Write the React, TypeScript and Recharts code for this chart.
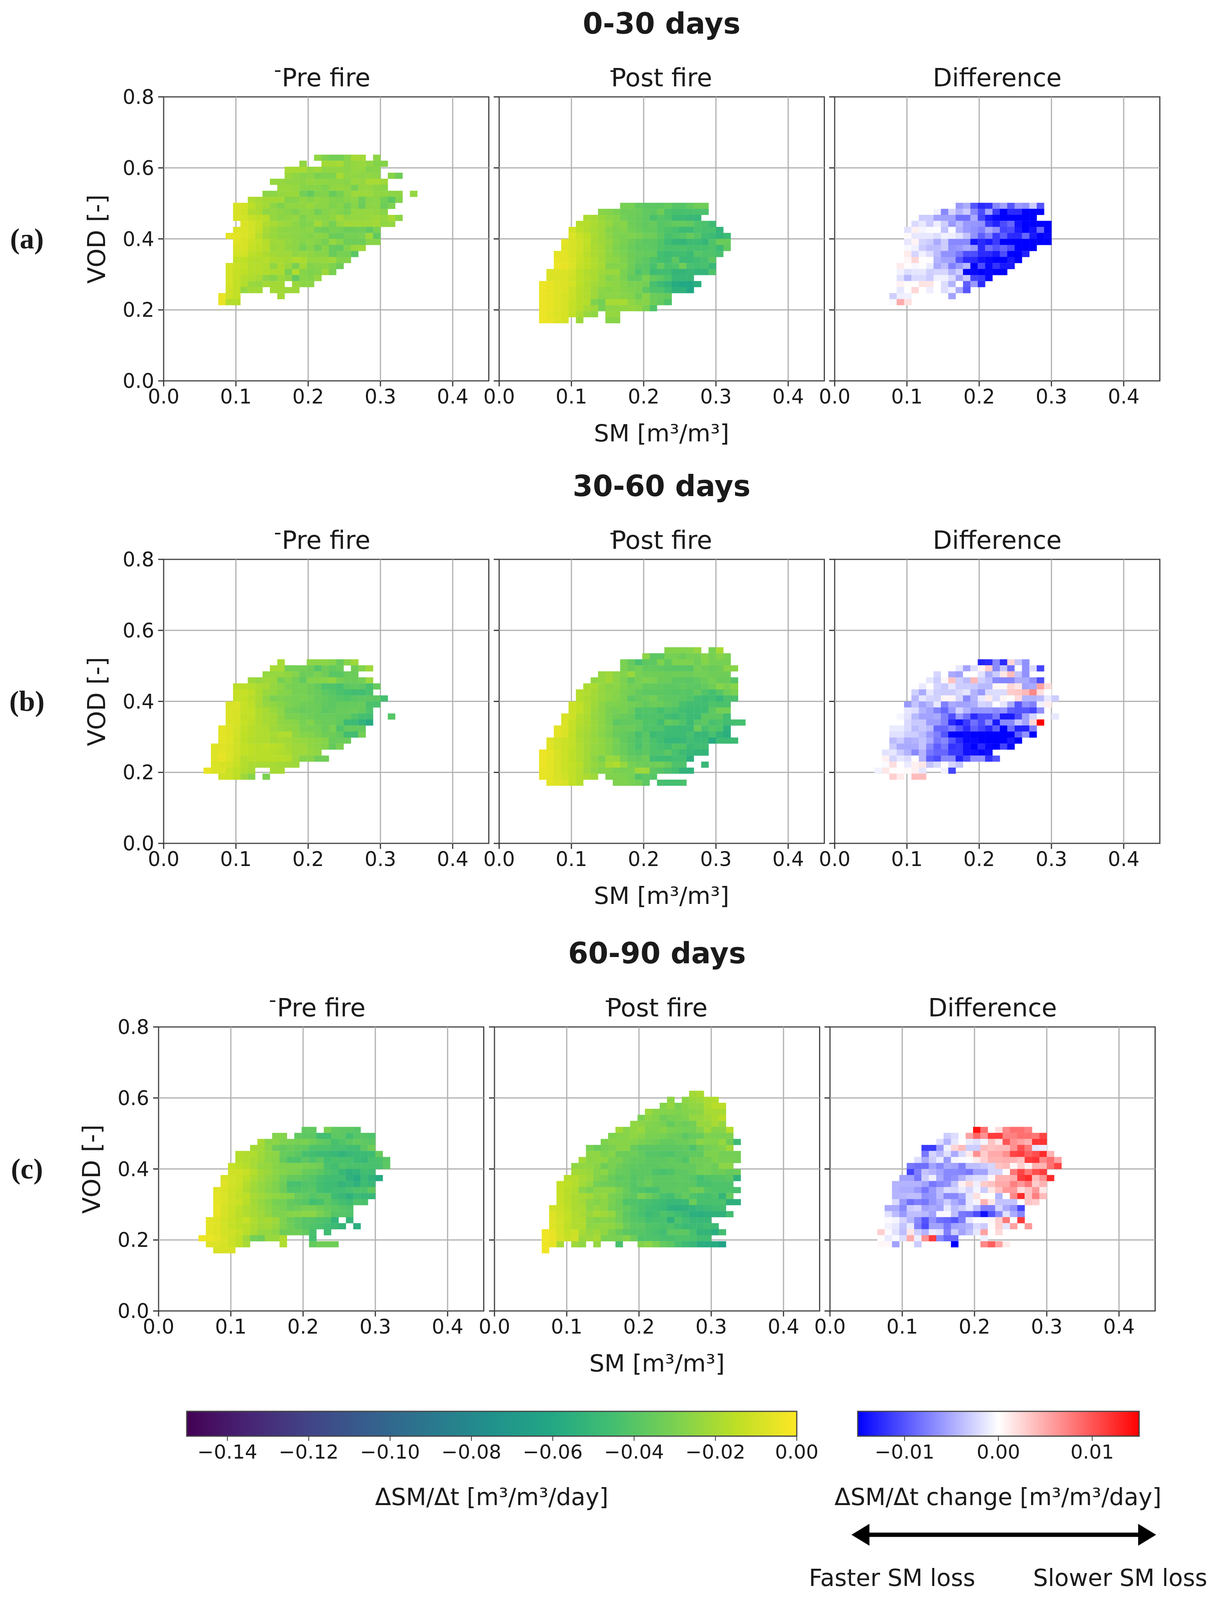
import { ScatterChart, Scatter, XAxis, YAxis, ReferenceLine, ReferenceArea } from "recharts";

// row = [vod row index, first SM bin, values...]. _ marks an empty bin.
// Pre/post values: SM loss rate in 1/1000 m3/m3/day (sign dropped). Difference: change in 1e-4 m3/m3/day.
type Row = (number | null)[];
const _ = null;

const preA: Row[] = [
  [13, 20, 25, 29, 32, 32, 27, 20, 21, _, 26],
  [12, 18, 25, _, _, 21, 21, 20, 26, 24, 23, 25, 28, 28],
  [11, 16, 20, 20, 20, 24, 22, 25, 25, 25, 26, 24, 24, 28, 27],
  [10, 16, 23, 25, 27, 26, 30, 29, 29, 20, 25, 25, 26, 25, 26, _, 27, 33],
  [9, 14, 24, 24, 25, 25, 26, 24, 25, 25, 26, 26, 27, 23, 24, 20, 20, 22],
  [8, 15, 23, 23, 24, 27, 27, 27, 29, 25, 24, 25, 31, 24, 24, 26, 27],
  [7, 13, 26, 26, 24, 23, 23, 32, 36, 29, 28, 35, 31, 26, 22, 23, 23, 25, 25, 26, 26, _, 24],
  [6, 11, 18, 20, 21, 21, 21, 28, 27, 25, 27, 25, 26, 28, 29, 27, 26, 33, 27, 26, 32, 38, 28],
  [5, 9, 9, 10, 15, 19, 21, 26, 29, 25, 25, 25, 23, 26, 26, 29, 27, 32, 27, 34, 26, 26, 34, 29],
  [4, 9, 9, 11, 18, 19, 25, 24, 25, 27, 29, 26, 26, 32, 28, 26, 28, 30, 24, 24, 24, 25, 27],
  [3, 9, 9, 10, 13, 15, 16, 24, 26, 25, 24, 29, 26, 26, 27, 25, 21, 25, 24, 24, 23, 22, 24, 20, 26],
  [2, 9, _, 8, 10, 13, 18, 20, 22, 23, 26, 29, 28, 21, 26, 31, 24, 21, 22, 22, 22, 21, 25, 24],
  [1, 9, 8, 8, 10, 14, 20, 23, 25, 26, 26, 27, 26, 32, 33, 30, 31, 34, 33, 33, 37, 30],
  [0, 8, 6, 6, 8, 10, 16, 21, 23, 25, 25, 26, 27, 28, 26, 27, 34, 35, 31, 31, 30, 22, 37],
  [-1, 9, 7, 9, 12, 14, 17, 22, 22, 24, 26, 28, 26, 28, 31, 24, 27, 33, 33, 33, 27, 27],
  [-2, 9, 9, 9, 13, 15, 16, 23, 22, 25, 26, 31, 27, 33, 27, 35, 36, 28, 23, 22],
  [-3, 9, 10, 10, 15, 16, 19, 21, 22, 22, 25, 24, 25, 27, 27, 35, 31, 31, 39],
  [-4, 9, 14, 15, 17, 18, 17, 19, 20, 21, 18, 19, 24, 24, 23, 22, 28, 28],
  [-5, 8, 10, 12, 14, 17, 17, 18, 25, 19, 23, 30, 21, 28, 27, 26, 29, 33],
  [-6, 8, 10, 13, 15, 17, 17, 18, 19, 19, 30, 18, 27, 29, 28, 22, 30],
  [-7, 8, 10, 13, 17, 18, 20, 26, 28, 23, 25, 37, 27, 28, 24],
  [-8, 8, 10, 14, 17, 23, 24, 21, 21, 21, _, 23, 26, 26],
  [-9, 8, 11, 14, 24, 21, 21, _, 21, 21, 22, 22],
  [-10, 7, 5, 11, 14, _, _, _, _, _, 21],
  [-11, 7, 5, 17, 17],
];

const postA: Row[] = [
  [5, 16, 31, 31, 36, 38, 38, 38, 36, 40, 40, 37, 33, 33],
  [4, 13, 27, 28, 30, 33, 33, 34, 37, 38, 33, 42, 44, 44, 43, 43, 43],
  [3, 11, 19, 20, 23, 26, 27, 32, 34, 35, 37, 43, 40, 42, 48, 48, 50, 50],
  [2, 10, 17, 17, 19, 22, 24, 28, 27, 33, 35, 37, 35, 40, 38, 36, 36, 37, 42, 43, 48],
  [1, 9, 10, 15, 18, 20, 22, 27, 29, 28, 32, 34, 36, 36, 40, 42, 44, 48, 48, 43, 44, 44, 52],
  [0, 9, 8, 12, 15, 19, 22, 26, 29, 30, 29, 30, 33, 34, 38, 44, 42, 40, 36, 40, 46, 48, 52, 48],
  [-1, 8, 6, 9, 11, 14, 20, 22, 24, 28, 30, 33, 36, 38, 38, 41, 47, 51, 52, 48, 48, 51, 42, 34, 35],
  [-2, 8, 7, 9, 11, 15, 19, 21, 25, 29, 31, 34, 37, 37, 38, 41, 43, 43, 42, 44, 44, 44, 42, 48, 37],
  [-3, 7, 6, 6, 9, 12, 16, 19, 21, 25, 28, 30, 33, 35, 36, 36, 45, 47, 46, 45, 48, 40, 42, 42, 44],
  [-4, 7, 5, 6, 8, 12, 15, 18, 21, 25, 26, 29, 33, 36, 38, 42, 45, 46, 38, 48, 48, 46, 44, 38],
  [-5, 7, 4, 5, 8, 13, 15, 18, 20, 28, 28, 28, 33, 38, 39, 44, 36, 43, 42, 33, 44, 45, 44, 50],
  [-6, 6, 8, 7, 8, 10, 15, 18, 19, 22, 23, 23, 30, 34, 42, 38, 47, 46, 46, 52, 52, 50, 52, 52, 42],
  [-7, 6, 8, 8, 8, 11, 15, 17, 19, 23, 28, 26, 30, 37, 37, 30, 36, 38, 42, 50, 50, 50],
  [-8, 5, 4, 5, 7, 8, 10, 15, 18, 21, 23, 25, 26, 28, 30, 30, 32, 44, 48, 52, 58, 60, 60, 56],
  [-9, 5, 4, 5, 7, 8, 12, 16, 18, 22, 26, 27, 26, 28, 29, 30, 38, 42, 42, 47, 54, 54, 60],
  [-10, 5, 4, 5, 7, 9, 12, 16, 18, 22, 27, 26, 26, 27, 28, 33, 27, 34, 35, 36],
  [-11, 5, 4, 5, 7, 9, 13, 16, 17, 29, 32, 20, 20, 20, 25, 28, 27, 33, 36, 42],
  [-12, 5, 4, 5, 7, 9, 13, 16, 20, 22, 31, 26, 25, 25, 24, 25, 30, 41],
  [-13, 5, 4, 6, 8, 9, 14, 19, 23, 25, _, 24, 24],
  [-14, 5, 4, 5, 7, 9, _, 22, _, _, _, 27, 27],
];

const diffA: Row[] = [
  [5, 16, -60, -48, -100, -125, -120, -70, -55, -100, -60, -65, -30, -100],
  [4, 13, -8, -70, -25, -45, -30, -70, -105, -55, -115, -150, -125, -125, -150, -150, -150],
  [3, 11, -30, -30, -55, -55, -55, -85, -85, -50, -110, -135, -145, -150, -150, -150, -150, -150],
  [2, 10, -22, -13, -30, -10, -28, -60, -40, -60, -62, -65, -115, -130, -105, -90, -140, -150, -150, -150, -150],
  [1, 9, -17, 8, -6, -2, -2, -35, -2, -45, -60, -65, -75, -50, -65, -110, -105, -135, -150, -140, -90, -150],
  [0, 9, 3, -14, -14, -14, -20, -8, -10, -18, -35, -65, -95, -75, -115, -95, -125, -125, -90, -135, -150, -145],
  [-1, 9, -14, 7, -25, -30, -50, -30, -70, -70, -70, -140, -125, -135, -115, -150, -150, -150, -150, -150, -150, -150],
  [-2, 9, -4, -8, -30, -38, -38, -30, -65, -60, -50, -60, -125, -85, -100, -90, -105, -150, -150, -150],
  [-3, 9, 12, -25, -8, -20, -40, -65, -65, -80, -105, -105, -125, -125, -135, -105, -150, -150, -130],
  [-4, 9, 5, 24, 1, 2, -45, -55, -55, -100, -125, -125, -140, -145, -150, -150, -135, -150],
  [-5, 8, 12, 2, -5, 2, -12, -50, -38, -75, -58, -42, -150, -105, -145, -120, -135, -135],
  [-6, 8, -8, -20, -15, -15, -28, -25, -25, -45, -28, -150, -145, -150, -145, -150, -150],
  [-7, 8, -18, -42, -22, -22, -30, -9, -9, -22, -55, -32, -110, -115, -145],
  [-8, 8, 8, 2, 2, 16, 16, 0, -20, -45, 0, -95, -60, -125],
  [-9, 8, -15, 0, 24, 0, -10, 0, -20, -8, -50, -100],
  [-10, 7, -28, -10, -8, _, _, _, _, _, -55],
  [-11, 7, -4, 50, 18],
];

const preB: Row[] = [
  [6, 15, 20, _, _, _, 26, 26, 26, 28, 35, 27, 22],
  [5, 14, 20, 20, 32, 32, 32, 33, 40, 33, 36, 34, _, 33, 28, 22],
  [4, 13, 24, 24, 24, 25, 28, 34, 33, 30, 33, 39, 39, 34, 34],
  [3, 11, 22, 24, 22, 23, 31, 28, 32, 37, 28, 28, 27, 25, 31, 34, 34, 32, 23],
  [2, 9, 16, 16, 17, 19, 20, 24, 26, 30, 31, 31, 33, 36, 42, 42, 44, 38, 37, 38, 44, 36],
  [1, 9, 13, 13, 15, 19, 23, 24, 27, 28, 31, 31, 33, 35, 38, 40, 43, 45, 46, 46, 43],
  [0, 9, 14, 14, 16, 19, 25, 30, 29, 30, 31, 30, 32, 35, 36, 38, 40, 41, 39, 38, 38, 39, 45],
  [-1, 8, 9, 8, 13, 15, 20, 24, 25, 27, 29, 31, 33, 33, 35, 37, 38, 36, 36, 36, 35, 43, 43],
  [-2, 8, 8, 9, 13, 14, 18, 20, 23, 26, 32, 33, 35, 34, 34, 38, 37, 35, 35, 34, 36, 42],
  [-3, 8, 8, 9, 14, 14, 18, 20, 21, 25, 30, 30, 32, 33, 35, 35, 35, 36, 36, 41, 45, 46, _, _, 40],
  [-4, 8, 8, 9, 13, 15, 18, 20, 21, 25, 26, 27, 31, 28, 33, 34, 34, 37, 48, 48, 53, 58],
  [-5, 7, 6, 7, 10, 14, 16, 18, 18, 22, 24, 25, 26, 30, 31, 31, 35, 30, 42, 36, 36, 36],
  [-6, 7, 6, 7, 10, 15, 16, 18, 18, 20, 18, 18, 25, 28, 28, 30, 33, 33, 36, 46, 46, 32],
  [-7, 7, 6, 7, 11, 15, 17, 18, 18, 21, 20, 21, 23, 24, 25, 26, 27, 35, 34, 34],
  [-8, 6, 7, 7, 8, 11, 14, 15, 16, 15, 16, 17, 20, 22, 22, 25, 26, 28, 36, 30],
  [-9, 6, 7, 6, 8, 11, 14, 15, 16, 16, 17, 18, 19, 22, 22, 24, 25],
  [-10, 6, 7, 5, 8, 12, 17, 16, 16, 16, 16, 16, 17, 22, 28, 27, 33, 33],
  [-11, 6, 8, 9, 10, 13, 17, 19, 20, 20, 20, 21, 21, 22],
  [-12, 5, 5, 8, 8, 12, 15, 18, 20, _, _, 20, 20],
  [-13, 7, 11, 12, 15, 22, 27, _, 30],
];

const postB: Row[] = [
  [8, 22, 28, 28, 28, 28, 24, _, 31, 20],
  [7, 19, 26, 38, 38, 31, 31, 34, 31, 32, 27, 31, 27, 30],
  [6, 16, 30, 36, 44, 38, 38, 29, 37, 29, 29, 29, 33, 28, 31, 31, 31],
  [5, 16, 30, 34, 32, 36, 36, 37, 38, 39, 39, 39, 31, 33, 35, 33, 27, 27],
  [4, 13, 24, 22, 26, 28, 23, 31, 33, 33, 33, 34, 33, 33, 34, 32, 32, 33, 33, 33],
  [3, 12, 25, 24, 21, 26, 30, 36, 31, 29, 30, 34, 34, 38, 38, 39, 37, 34, 31, 35, 34, 40],
  [2, 11, 19, 19, 24, 27, 26, 29, 32, 32, 36, 36, 37, 38, 38, 36, 38, 39, 36, 33, 27, 30, 27],
  [1, 10, 17, 18, 21, 24, 26, 27, 30, 32, 36, 38, 38, 38, 39, 40, 39, 40, 36, 41, 45, 40, 33, 30],
  [0, 10, 17, 19, 21, 24, 26, 28, 30, 38, 36, 34, 32, 37, 38, 38, 39, 41, 45, 47, 45, 50, 43, 43],
  [-1, 9, 12, 14, 18, 22, 26, 29, 29, 30, 32, 33, 36, 34, 34, 37, 38, 44, 46, 46, 46, 42, 43, 43],
  [-2, 9, 12, 14, 18, 23, 26, 30, 32, 30, 34, 42, 41, 41, 45, 41, 43, 46, 48, 47, 47, 38, 32, 32],
  [-3, 8, 9, 11, 17, 19, 24, 26, 30, 33, 35, 36, 43, 42, 42, 42, 46, 48, 44, 48, 48, 38, 38, 38, 46],
  [-4, 8, 8, 13, 17, 19, 23, 26, 30, 38, 37, 37, 37, 41, 41, 46, 36, 38, 42, 48, 40, 38, 44, 42, 46, 45, 45],
  [-5, 7, 6, 8, 13, 18, 20, 23, 26, 29, 33, 34, 34, 37, 42, 42, 42, 47, 48, 48, 48, 34, 44, 40, 42, 54],
  [-6, 7, 6, 8, 14, 19, 21, 24, 27, 30, 35, 36, 38, 44, 39, 48, 46, 48, 48, 48, 44, 50, 50, 44, 52, 56],
  [-7, 6, 7, 10, 12, 14, 18, 21, 23, 25, 28, 31, 36, 39, 42, 39, 43, 46, 51, 51, 50, 46, 48, 48, 58, 48, 48, 48],
  [-8, 6, 7, 10, 12, 14, 18, 21, 24, 25, 28, 32, 35, 38, 43, 38, 42, 44, 46, 41, 41, 48, 46, 46],
  [-9, 5, 4, 5, 9, 12, 15, 18, 21, 24, 25, 28, 32, 34, 38, 40, 38, 42, 42, 38, 44, 48, 50, 52, 52],
  [-10, 5, 4, 6, 9, 12, 15, 18, 21, 26, 30, 23, 24, 32, 35, 36, 33, 46, 47, 47, 45, 45, 55],
  [-11, 5, 4, 6, 9, 12, 14, 16, 21, 24, 26, 20, 18, 24, 31, 33, 34, 33, 32, 35, 42, 42, _, _, 50],
  [-12, 5, 5, 6, 9, 12, 14, 17, 22, 26, 28, 28, 30, 31, 30, 22, 22, 38, 40, 43, 45, 52, 53],
  [-13, 5, 5, 6, 9, 11, 14, 17, 19, 22, _, 29, 29, 29, 31, 41, 38, 40],
  [-14, 6, 6, 7, 9, 14, 17, _, _, _, _, 29, 29, 30, 32, 38, _, 44, 45, 45, 44],
];

const diffB: Row[] = [
  [6, 19, -130, -125, -70, -125, 25, -35, -65],
  [5, 16, -15, -55, -20, 6, 30, -70, -35, -85, 0, -65, -22, -110],
  [4, 13, -25, 0, -50, -55, 0, 0, -17, -48, -30, 15, 40, -35, -65],
  [3, 12, -15, -30, 5, 35, -28, -40, 42, -28, -38, -70, -72, -72, -50, -50, -65, -105],
  [2, 11, -13, 2, -25, -32, -14, -30, -30, -32, -42, -42, 5, 5, 24, 15, -55, -50, 55, 22],
  [1, 10, -28, -50, -14, -28, -30, -30, -22, -15, -45, -60, -22, -20, -22, 30, 33, 42, 70, 18, 0],
  [0, 10, -42, -15, -25, -27, 6, 6, -25, -70, -45, -13, 12, -22, 6, 0, 22, -45, -45, -40, -13, -30],
  [-1, 9, -60, -35, -55, -42, -14, -75, -50, -55, -55, -48, -25, -28, 0, -15, -48, -100, -65, -75, -9, 10],
  [-2, 9, -15, -20, -45, -55, -75, -90, -60, -25, -45, -62, -62, -62, -68, -62, -95, -100, -100, -110, -65],
  [-3, 8, -6, -17, -42, -55, -55, -50, -75, -105, -60, -85, -125, -105, -105, -80, -135, -135, -105, -55, -25, _, _, -14],
  [-4, 9, -22, -32, -32, -58, -58, -75, -125, -140, -115, -85, -105, -70, -135, -70, -70, -35, -55, 22, 150],
  [-5, 7, -12, -12, -22, -40, -32, -40, -90, -90, -75, -100, -125, -95, -110, -125, -95, -150, -85, -130, -130, -75],
  [-6, 7, -18, -18, -28, -30, -40, -60, -75, -100, -150, -150, -145, -150, -150, -150, -150, -150, -150, -95, -65, -150],
  [-7, 7, -40, -30, -48, -45, -35, -50, -80, -70, -100, -125, -145, -145, -150, -150, -150, -150, -135, -150],
  [-8, 7, -30, -50, -50, -50, -35, -70, -95, -80, -120, -115, -140, -150, -125, -145, -150, -110, -145],
  [-9, 6, -17, -14, -30, -45, -70, -45, -80, -90, -90, -115, -115, -140, -140, -145, -140],
  [-10, 6, 8, -25, -14, -20, 0, -45, -95, -105, -70, -70, -130, -105, -65, -65, -120, -100],
  [-11, 6, -3, 20, 0, -12, 8, 15, -35, -22, 2, -25, -35],
  [-12, 5, -8, 14, 1, 1, 3, 8, -15, _, _, -8, -110],
  [-13, 7, 28, 12, _, 40, 40],
];

const preC: Row[] = [
  [6, 19, 37, 37, _, 30, 37, 38, 38, 40],
  [5, 15, 28, 28, _, 37, 38, 38, 46, 46, 38, 38, 45, 40, 40, 42],
  [4, 13, 20, 27, 26, 29, 30, 31, 30, 33, 36, 38, 44, 41, 38, 36, 38, 39],
  [3, 12, 21, 21, 26, 34, 36, 34, 36, 37, 42, 42, 42, 44, 44, 46, 46, 38, 33],
  [2, 10, 17, 18, 18, 22, 25, 26, 35, 36, 38, 44, 46, 48, 48, 50, 53, 50, 48, 48, 47, 35],
  [1, 10, 17, 18, 20, 22, 26, 27, 36, 42, 42, 38, 42, 38, 45, 43, 44, 44, 48, 50, 44, 43, 39],
  [0, 9, 13, 15, 17, 20, 24, 24, 27, 29, 29, 29, 30, 31, 33, 44, 46, 41, 43, 43, 43, 44, 44, 38],
  [-1, 9, 11, 11, 13, 17, 21, 23, 26, 28, 29, 30, 35, 36, 38, 42, 44, 50, 54, 52, 46, 47],
  [-2, 8, 9, 10, 12, 15, 19, 22, 25, 27, 32, 36, 36, 38, 40, 44, 46, 46, 46, 54, 58, 48, 54, 58],
  [-3, 8, 7, 10, 12, 17, 21, 24, 26, 29, 33, 44, 44, 41, 41, 45, 47, 48, 52, 50, 54, 47, 50],
  [-4, 7, 7, 8, 11, 13, 18, 22, 24, 27, 29, 34, 41, 41, 40, 39, 45, 47, 46, 46, 44, 42, 42, 37],
  [-5, 7, 6, 8, 11, 14, 15, 20, 22, 24, 25, 27, 28, 35, 37, 40, 38, 38, 47, 50, 54, 48, 50, 50],
  [-6, 7, 6, 8, 11, 12, 16, 21, 24, 27, 31, 32, 36, 38, 40, 46, 44, 38, 42, 45, 47, 42, 43],
  [-7, 7, 5, 9, 12, 15, 18, 20, 23, 26, 29, 31, 35, 33, 31, 31, 33, 36, 38, 40, 42],
  [-8, 7, 5, 9, 12, 16, 18, 20, 22, 25, 29, 29, 27, 27, 26, 26, 30, 34, 40, 40, 41],
  [-9, 6, 6, 7, 10, 13, 15, 13, 18, 21, 20, 22, 29, 34, 37, 40, 40, 42, 43, 52, _, 52],
  [-10, 6, 6, 7, 10, 13, 15, 16, 19, 22, 21, 24, 29, 33, 37, 40, 42, 43, 46, 48, 52, _, 56],
  [-11, 6, 6, 7, 10, 11, 13, 16, 20, 24, 24, 26, 33, 33, 33, 36, 44, _, 47],
  [-12, 5, 4, 4, 6, 9, 12, 15, 22, 32, 33, 23, 23, 18, _, _, _, 45],
  [-13, 6, 7, 8, 9, 12, 15, 20, _, _, _, _, 18, _, _, _, 36, 33, 33, 33],
  [-14, 7, 9, 9, 9],
];

const postC: Row[] = [
  [12, 26, 21, 19],
  [11, 23, 26, _, 26, 23, 22, 19, 18],
  [10, 22, 28, 24, 30, 27, 25, 25, 19, 16, 16],
  [9, 20, 23, 27, 28, 28, 29, 28, 27, 26, 20, 20, 20],
  [8, 19, 30, 26, 28, 33, 31, 30, 29, 24, 24, 22, 19, 16],
  [7, 18, 25, 26, 28, 29, 31, 36, 32, 34, 32, 23, 24, 20, 24],
  [6, 16, 21, 27, 25, 23, 29, 29, 27, 30, 31, 32, 32, 28, 22, 28, 27, 17],
  [5, 15, 29, 28, 27, 25, 27, 30, 30, 31, 33, 34, 38, 35, 35, 29, 30, 30, 29],
  [4, 14, 29, 27, 27, 27, 28, 30, 32, 33, 36, 36, 34, 34, 32, 26, 28, 28, 24, 33, 48],
  [3, 12, 30, 34, 31, 30, 27, 27, 35, 38, 38, 38, 38, 38, 38, 37, 42, 36, 32, 30, 28, 22],
  [2, 12, 26, 25, 29, 27, 34, 34, 33, 36, 40, 40, 41, 42, 39, 38, 37, 37, 29, 29, 32, 32, 32],
  [1, 11, 21, 26, 25, 25, 30, 30, 34, 36, 36, 38, 38, 38, 36, 38, 41, 33, 33, 33, 29, 31, 30, 32],
  [0, 10, 25, 25, 25, 27, 33, 30, 33, 36, 37, 38, 38, 38, 37, 37, 36, 36, 36, 33, 32, 34, 26, 26],
  [-1, 10, 21, 22, 23, 28, 26, 31, 35, 36, 39, 38, 38, 42, 44, 42, 38, 38, 36, 32, 32, 34, 33, 36, 34],
  [-2, 9, 17, 17, 20, 22, 28, 30, 35, 38, 36, 40, 38, 36, 38, 38, 38, 37, 38, 40, 45, 42, 40, 40, 38, 54],
  [-3, 8, 13, 15, 17, 21, 24, 32, 33, 34, 36, 37, 40, 37, 34, 38, 38, 38, 38, 38, 39, 44, 44, 42, 42, 42],
  [-4, 8, 13, 16, 18, 27, 30, 26, 26, 26, 30, 35, 40, 42, 44, 44, 38, 38, 37, 38, 33, 33, 40, 42, 42, 42, 44],
  [-5, 8, 13, 16, 19, 20, 21, 25, 24, 30, 32, 36, 38, 30, 34, 38, 44, 46, 40, 36, 42, 44, 45, 42, 52, 36],
  [-6, 8, 13, 16, 19, 21, 26, 28, 26, 30, 34, 42, 42, 43, 44, 46, 48, 50, 50, 48, 34, 44, 44, 44, 43, 55, 55],
  [-7, 7, 11, 12, 15, 19, 19, 26, 24, 26, 31, 33, 36, 40, 43, 46, 47, 49, 54, 55, 54, 52, 50, 48, 46, 46],
  [-8, 7, 7, 11, 14, 18, 20, 23, 20, 22, 24, 32, 38, 41, 44, 48, 46, 42, 44, 47, 50, 55, 56, 54, 54, 54, 46],
  [-9, 7, 7, 10, 14, 18, 18, 26, 28, 27, 28, 32, 37, 40, 41, 45, 44, 44, 54, 42, 46, 50, 50, 50],
  [-10, 7, 7, 10, 15, 18, 18, 26, 25, 24, 25, 28, 34, 38, 38, 41, 42, 43, 42, 46, 49, 48, 48, 46, 48],
  [-11, 6, 3, 5, 10, 14, 12, 20, 24, 22, 25, 30, 35, 38, 40, 40, 42, 44, 46, 38, 38, 38, 44, 52, 52, 56, 46],
  [-12, 6, 3, 5, 9, 13, 11, 23, 22, 20, 30, 30, 30, 27, 34, 42, 42, 42, 44, 44, 42, 42, 43, 46, 46],
  [-13, 6, 3, 5, 20, _, 22, 25, _, 24, _, _, 44, _, _, 28, 26, 30, 36, 38, 44, 48, 50, 56, 57, 58, 64],
  [-14, 6, 3],
];

const diffC: Row[] = [
  [6, 19, 140, 85, _, 20, 70, 85, 85, 75],
  [5, 15, -30, -20, _, 55, 90, 65, 115, 115, 75, 75, 85, 85, 80, 110],
  [4, 14, -20, -45, -15, 0, -12, -18, -6, 35, 15, 100, 65, 55, 45, 120, 120],
  [3, 12, -115, -115, -60, -8, 25, 40, -30, -30, 40, 35, 40, 40, 65, 105, 80, -15, -10],
  [2, 12, -80, -25, -40, -18, -50, -22, 12, 65, 30, 50, 50, 65, 110, 115, 95, 105, 125, 45],
  [1, 11, -20, -50, -30, -12, -60, -6, -3, -2, 12, 28, 45, 45, 48, 45, 35, 115, 120, 70, 85, 55],
  [0, 10, -80, -85, -85, -55, -70, -50, -55, -75, -38, -38, -32, -24, 35, 40, 5, 28, 8, 45, 45, 85, 110],
  [-1, 10, -110, -75, -35, -45, -55, -70, -70, -72, -80, -55, -55, -25, -25, 0, 80, 110, 80, 105, 115],
  [-2, 9, -55, -55, -80, -28, -8, -50, -70, -65, -45, -25, -20, -20, 5, 45, 45, 48, 115, 125, 40, 65, 125],
  [-3, 8, -45, -45, -45, -45, -55, -80, -70, -65, -35, 8, 25, -10, 30, 35, 50, 50, 75, 60, 80, 30, 45],
  [-4, 8, -45, -48, -48, -60, -80, -60, -40, -20, -25, -12, -25, -6, -30, 15, 35, 60, 60, 20, 35, 60, 14],
  [-5, 8, -45, -42, -38, -38, -65, -62, -40, -70, -70, -55, -15, 18, 0, 0, -45, 0, 70, 125, 35, 75, 40],
  [-6, 8, -22, -60, -85, -75, -80, -62, -50, -30, -50, -65, -15, -6, 45, 14, -35, -35, -35, 0, 35, 30],
  [-7, 7, -50, -50, -70, -30, -25, -55, -50, -55, -15, -40, -30, -15, -40, -75, -75, -25, -50, -65, -110],
  [-8, 7, -18, -40, -60, -38, -38, -42, -55, -4, -4, -38, -80, -85, -105, -140, -100, -70, -18, -50, -70],
  [-9, 7, -3, -6, -25, -42, -70, -100, -65, -85, -90, -100, -75, -14, -2, -2, 6, 28, 80, 0, 115],
  [-10, 7, -8, -14, -35, -12, -75, -105, -55, -55, -80, -55, -50, -45, -22, -30, 3, 28, -15, 55, _, 60],
  [-11, 6, 28, -3, -18, -38, 15, -30, -45, -12, -18, -75, -30, -55, -38, -15, 55, 0, 22],
  [-12, 6, 2, -12, -4, -20, 50, -10, 65, 115, -70, -90, -90, _, _, _, -10],
  [-13, 6, 5, 4, -55, _, _, -30, _, _, _, _, -150, _, _, _, 70, 95, 55, 12],
];

const smTicks = [0, 0.1, 0.2, 0.3, 0.4];
const vodTicks = [0, 0.2, 0.4, 0.6, 0.8];
const lossTicks = [-0.14, -0.12, -0.1, -0.08, -0.06, -0.04, -0.02, 0];
const changeTicks = [-0.01, 0, 0.01];

const VIRIDIS = ["#440154", "#482475", "#414487", "#355f8d", "#2a788e", "#21918c", "#22a884", "#44bf70", "#7ad151", "#bddf26", "#fde725"];

const FONT = "DejaVu Sans";
const INK = "#1a1a1a";
// the browser window stops at 4096px high, so the 4315px layout is squeezed vertically to fit
const PAGE_H = 4096;
const SY = PAGE_H / 4315;
const sy = (y: number) => y * SY;
const PANEL_W = 832.5;
const PANEL_H = sy(766);
const SM_MAX = 0.45;
const VOD_MAX = 0.8;
const SM_START = 0.0042;
const SM_BIN = 0.0102;
const VOD_START = 0.4;
const VOD_BIN = 0.01695;
const PAD = { left: 130, top: 44, right: 30, bottom: 100 };

function hexRgb(h: string) {
  return [1, 3, 5].map((i) => parseInt(h.slice(i, i + 2), 16));
}

function viridis(m: number) {
  const t = Math.max(0, Math.min(1, 1 - m / 150)) * 10;
  const i = Math.min(9, Math.floor(t));
  const a = hexRgb(VIRIDIS[i]);
  const b = hexRgb(VIRIDIS[i + 1]);
  const c = a.map((v, k) => Math.round(v + (b[k] - v) * (t - i)));
  return `rgb(${c.join(",")})`;
}

function bwr(d: number) {
  const f = Math.min(1, Math.abs(d) / 150);
  const o = Math.round(255 * (1 - f));
  return d < 0 ? `rgb(${o},${o},255)` : `rgb(255,${o},${o})`;
}

function toCells(rows: Row[]) {
  const cells: { x: number; y: number; v: number }[] = [];
  rows.forEach(([r, first, ...vals]) => {
    vals.forEach((v, k) => {
      if (v === null) return;
      cells.push({
        x: SM_START + ((first as number) + k + 0.5) * SM_BIN,
        y: VOD_START + ((r as number) + 0.5) * VOD_BIN,
        v,
      });
    });
  });
  return cells;
}

const cellW = (SM_BIN * PANEL_W) / SM_MAX;
const cellH = (VOD_BIN * PANEL_H) / VOD_MAX;

function Panel({ rows, left, top, color, ylabels }: { rows: Row[]; left: number; top: number; color: (v: number) => string; ylabels: boolean }) {
  const cells = toCells(rows);
  const tick = { fontSize: 51, fontFamily: FONT, fill: INK };
  const tickLine = { stroke: "#333", strokeWidth: 3 };
  return (
    <div style={{ position: "absolute", left: left - PAD.left, top: top - PAD.top }}>
      <ScatterChart
        width={PANEL_W + PAD.left + PAD.right}
        height={PANEL_H + PAD.top + PAD.bottom}
        margin={{ top: PAD.top, right: PAD.right, left: 0, bottom: 0 }}
      >
        <XAxis
          type="number"
          dataKey="x"
          domain={[0, SM_MAX]}
          ticks={smTicks}
          interval={0}
          height={PAD.bottom}
          tick={tick}
          tickLine={tickLine}
          tickSize={14}
          tickMargin={8}
          axisLine={false}
          tickFormatter={(v: number) => v.toFixed(1)}
        />
        <YAxis
          type="number"
          dataKey="y"
          domain={[0, VOD_MAX]}
          ticks={vodTicks}
          interval={0}
          width={PAD.left}
          tick={tick}
          tickLine={tickLine}
          tickSize={14}
          tickMargin={10}
          axisLine={false}
          tickFormatter={(v: number) => (ylabels ? v.toFixed(1) : "")}
        />
        <Scatter
          data={cells}
          isAnimationActive={false}
          shape={(p: any) => (
            <rect
              x={p.cx - cellW / 2}
              y={p.cy - cellH / 2}
              width={cellW + 0.4}
              height={cellH + 0.4}
              fill={color(p.payload.v)}
            />
          )}
        />
        {smTicks.slice(1).map((v) => (
          <ReferenceLine key={`x${v}`} x={v} stroke="#b0b0b0" strokeWidth={3} />
        ))}
        {vodTicks.slice(1, 4).map((v) => (
          <ReferenceLine key={`y${v}`} y={v} stroke="#b0b0b0" strokeWidth={3} />
        ))}
        <ReferenceArea x1={0} x2={SM_MAX} y1={0} y2={VOD_MAX} fill="none" stroke="#444" strokeWidth={3} />
      </ScatterChart>
    </div>
  );
}

function ColorBar({ left, width, domain, ticks, gradId, stops }: { left: number; width: number; domain: number[]; ticks: number[]; gradId: string; stops: string[] }) {
  const side = 90;
  const barH = sy(67);
  return (
    <div style={{ position: "absolute", left: left - side, top: sy(3806) - 10 }}>
      <ScatterChart width={width + side * 2} height={barH + 100} margin={{ top: 10, right: side, left: side, bottom: 0 }}>
        <defs>
          <linearGradient id={gradId} x1="0" y1="0" x2="1" y2="0">
            {stops.map((c, i) => (
              <stop key={i} offset={i / (stops.length - 1)} stopColor={c} />
            ))}
          </linearGradient>
        </defs>
        <XAxis
          type="number"
          dataKey="x"
          domain={domain}
          ticks={ticks}
          interval={0}
          height={90}
          tick={{ fontSize: 50, fontFamily: FONT, fill: INK }}
          tickLine={{ stroke: "#333", strokeWidth: 2 }}
          tickSize={12}
          tickMargin={10}
          axisLine={false}
          tickFormatter={(v: number) => v.toFixed(2).replace("-", "\u2212")}
        />
        <YAxis type="number" dataKey="y" domain={[0, 1]} width={0} hide />
        <Scatter data={ticks.map((x) => ({ x, y: 0.5 }))} isAnimationActive={false} shape={() => <g />} />
        <ReferenceArea x1={domain[0]} x2={domain[1]} y1={0} y2={1} fill={`url(#${gradId})`} fillOpacity={1} stroke="#444" strokeWidth={3} />
      </ScatterChart>
    </div>
  );
}

function Label({ x, y, size = 60, weight = 400, family = FONT, rotate = 0, children }: { x: number; y: number; size?: number; weight?: number; family?: string; rotate?: number; children: any }) {
  return (
    <div
      style={{
        position: "absolute",
        left: x,
        top: sy(y),
        transform: `translate(-50%, -50%) rotate(${rotate}deg)`,
        fontFamily: family,
        fontSize: size,
        fontWeight: weight,
        color: INK,
        whiteSpace: "nowrap",
        lineHeight: 1,
      }}
    >
      {children}
    </div>
  );
}

const rowsLayout = [
  { title: "0-30 days", titleY: 63, tag: "(a)", top: 261.5, lefts: [418.7, 1277.6, 2137], data: [preA, postA, diffA] },
  { title: "30-60 days", titleY: 1311, tag: "(b)", top: 1509, lefts: [418.7, 1277.6, 2137], data: [preB, postB, diffB] },
  { title: "60-90 days", titleY: 2570, tag: "(c)", top: 2769.6, lefts: [406.3, 1265.9, 2125], data: [preC, postC, diffC] },
];
const panelTitles = ["Pre fire", "Post fire", "Difference"];

export default function App() {
  return (
    <div style={{ position: "absolute", left: 0, top: 0, width: 3121, height: PAGE_H, background: "#fff", overflow: "hidden" }}>
      {rowsLayout.map((row) => (
        <div key={row.tag}>
          <Label x={row.lefts[1] + PANEL_W / 2} y={row.titleY} size={74} weight={700}>{row.title}</Label>
          <Label x={69} y={row.top + 383 - 1} size={74} weight={700} family="Liberation Serif">{row.tag}</Label>
          <Label x={row.lefts[0] - 171} y={row.top + 383} size={62} rotate={-90}>VOD [-]</Label>
          <Label x={row.lefts[1] + PANEL_W / 2} y={row.top + 766 + 140} size={61}>SM [m³/m³]</Label>
          {row.lefts.map((left, i) => (
            <div key={i}>
              <Label x={left + PANEL_W / 2} y={row.top - 52} size={64}>{panelTitles[i]}</Label>
              {i < 2 && (
                <div style={{ position: "absolute", left: left + 285, top: sy(row.top - 72), width: 14, height: 4, background: INK }} />
              )}
              <Panel rows={row.data[i]} left={left} top={sy(row.top)} color={i === 2 ? bwr : viridis} ylabels={i === 0} />
            </div>
          ))}
        </div>
      ))}
      <ColorBar left={478} width={1562} domain={[-0.15, 0]} ticks={lossTicks} gradId="lossGrad" stops={VIRIDIS} />
      <ColorBar left={2195.5} width={720.5} domain={[-0.015, 0.015]} ticks={changeTicks} gradId="changeGrad" stops={["#0000ff", "#ffffff", "#ff0000"]} />
      <Label x={1259} y={4037}>ΔSM/Δt [m³/m³/day]</Label>
      <Label x={2555} y={4037}>ΔSM/Δt change [m³/m³/day]</Label>
      <svg style={{ position: "absolute", left: 2170, top: sy(4139) - 40 }} width={800} height={80}>
        <rect x={50} y={34.5} width={700} height={11} fill="#000" />
        <polygon points="10,40 56,12 56,68" fill="#000" />
        <polygon points="790,40 744,12 744,68" fill="#000" />
      </svg>
      <Label x={2284} y={4255}>Faster SM loss</Label>
      <Label x={2868} y={4255}>Slower SM loss</Label>
    </div>
  );
}
